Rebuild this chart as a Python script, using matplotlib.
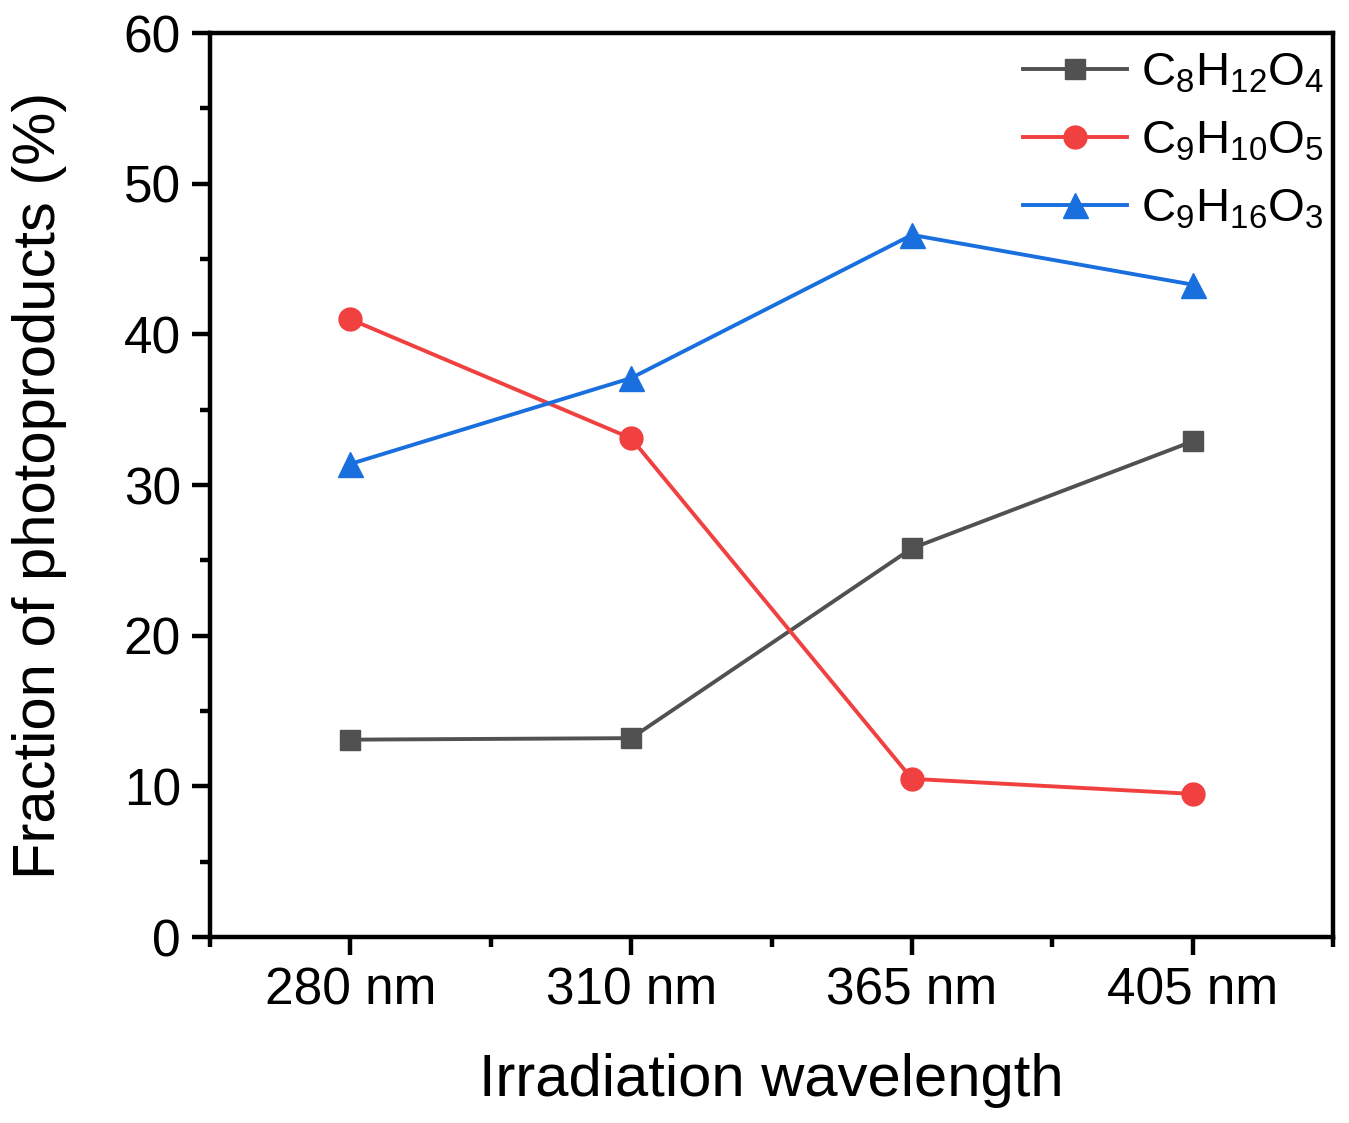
import matplotlib
matplotlib.use("Agg")
import matplotlib.pyplot as plt

plt.rcParams["font.family"] = ["Liberation Sans", "DejaVu Sans"]
plt.rcParams["mathtext.fontset"] = "custom"
plt.rcParams["mathtext.rm"] = "Liberation Sans"

wavelengths = ["280 nm", "310 nm", "365 nm", "405 nm"]
c8h12o4 = [13.1, 13.2, 25.8, 32.9]
c9h10o5 = [41.0, 33.1, 10.5, 9.5]
c9h16o3 = [31.4, 37.1, 46.6, 43.3]

x = list(range(1, len(wavelengths) + 1))

fig = plt.figure(figsize=(13.49, 11.23), dpi=100)
ax = fig.add_axes([0.1557, 0.1656, 0.8325, 0.805])

ax.plot(x, c8h12o4, color="#515151", lw=2.8, marker="s", ms=15,
        label=r"$\mathregular{C_8H_{12}O_4}$")
ax.plot(x, c9h10o5, color="#F14040", lw=2.8, marker="o", ms=16.5,
        label=r"$\mathregular{C_9H_{10}O_5}$")
ax.plot(x, c9h16o3, color="#1A6FDF", lw=2.8, marker="^", ms=18,
        label=r"$\mathregular{C_9H_{16}O_3}$")

ax.set_xlim(0.5, 4.5)
ax.set_ylim(0, 60)
ax.set_xticks(x)
ax.set_xticklabels(wavelengths)
ax.set_xticks([0.5, 1.5, 2.5, 3.5, 4.5], minor=True)
ax.set_yticks(range(0, 61, 10))
ax.set_yticks(range(5, 60, 10), minor=True)

for s in ax.spines.values():
    s.set_linewidth(3.2)
ax.tick_params(which="major", direction="out", length=13, width=3.2,
               labelsize=37, pad=8)
ax.tick_params(which="minor", direction="out", length=7, width=3.2)
ax.tick_params(top=False, right=False)

ax.set_xlabel("Irradiation wavelength", fontsize=43, labelpad=27)
ax.set_ylabel("Fraction of photoproducts (%)", fontsize=43, labelpad=41)

ax.legend(loc="upper right", frameon=False, fontsize=34,
          handlelength=2.2, handletextpad=0.3, labelspacing=0.5,
          borderaxespad=0.0, bbox_to_anchor=(1.009, 1.0))

fig.savefig("out.png", dpi=100)
